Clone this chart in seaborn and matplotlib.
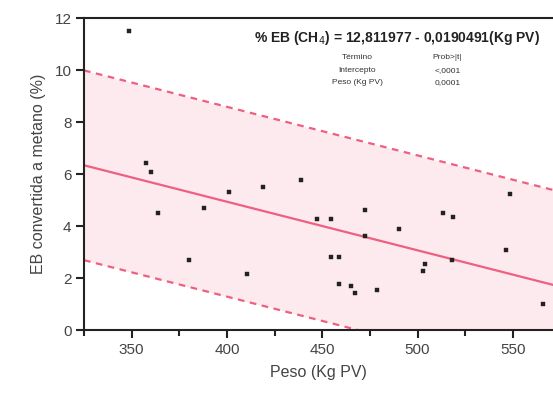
import numpy as np
import pandas as pd
import matplotlib
matplotlib.use("Agg")
import matplotlib.pyplot as plt
from matplotlib.ticker import MultipleLocator
import seaborn as sns

# ---- data ----
peso = [348.7, 357.3, 360.3, 363.6, 380.2, 387.8, 401.2, 410.7, 418.9, 438.8,
        447.2, 454.4, 454.7, 458.9, 458.7, 465.2, 467.3, 472.4, 472.4, 478.9,
        490.3, 502.9, 504.1, 513.4, 518.8, 518.0, 548.5, 546.3, 565.6]
eb_metano = [11.51, 6.43, 6.09, 4.49, 2.69, 4.69, 5.30, 2.14, 5.50, 5.76,
             4.28, 4.28, 2.82, 2.82, 1.76, 1.68, 1.41, 4.63, 3.62, 1.55,
             3.88, 2.28, 2.55, 4.49, 4.35, 2.68, 5.23, 3.08, 1.01]
fit_intercept = 12.41      # drawn regression line
fit_slope = -0.01869
band_halfwidth = 3.65      # prediction band half-width
x_range = [325.0, 571.1]
x_ticks = [350, 400, 450, 500, 550]
y_ticks = [0, 2, 4, 6, 8, 10, 12]

equation = "% EB (CH$_4$) = 12,811977 - 0,0190491(Kg PV)"
table_rows = [("Término", "Prob>|t|"), ("Intercepto", "<,0001"), ("Peso (Kg PV)", "0,0001")]

# ---- figure ----
sns.set_style("ticks")
plt.rcParams['font.family'] = ['Liberation Sans', 'DejaVu Sans']

fig = plt.figure(figsize=(5.53, 3.97), dpi=100)
ax = fig.add_axes([84/553, 1-330/397, 1-84/553, (330-18)/397])

line_color = "#ee5f80"
xs = np.linspace(x_range[0], x_range[1], 200)
yhat = fit_intercept + fit_slope * xs
ax.fill_between(xs, yhat - band_halfwidth, yhat + band_halfwidth,
                color="#fdeaee", lw=0, zorder=0)
sns.lineplot(x=xs, y=yhat, ax=ax, color=line_color, lw=1.6, zorder=2)
sns.lineplot(x=xs, y=yhat + band_halfwidth, ax=ax, color=line_color, lw=1.6,
             linestyle=(0, (3, 2.5)), zorder=2)
sns.lineplot(x=xs, y=yhat - band_halfwidth, ax=ax, color=line_color, lw=1.6,
             linestyle=(0, (3, 2.5)), zorder=2)

df = pd.DataFrame({"peso": peso, "eb": eb_metano})
sns.scatterplot(data=df, x="peso", y="eb", ax=ax, marker="s", s=9,
                color="#222222", edgecolor="#222222", linewidth=0.3, zorder=3)

ax.set_xlim(*x_range)
ax.set_ylim(0, 12)
ax.set_xticks(x_ticks)
ax.xaxis.set_minor_locator(MultipleLocator(25))
ax.set_yticks(y_ticks)

ax.spines['right'].set_visible(False)
for s in ['left', 'bottom', 'top']:
    ax.spines[s].set_linewidth(1.5)
    ax.spines[s].set_color("#222222")
ax.tick_params(axis='both', which='major', length=6, width=1.5, color="#222222",
               labelsize=11, labelcolor="#444444", pad=3)
ax.tick_params(axis='x', which='minor', length=4, width=1.5, color="#222222")

ax.set_xlabel("Peso (Kg PV)", fontsize=11.5, color="#444444", labelpad=6)
ax.set_ylabel("EB convertida a metano (%)", fontsize=11.5, color="#444444", labelpad=6)

ax.text(0.668, 0.937, equation, transform=ax.transAxes, ha="center", va="center",
        fontsize=10, fontweight="bold", color="#222222")
row_y = [0.872, 0.833, 0.792]
for (a, b), yy in zip(table_rows, row_y):
    ax.text(0.582, yy, a, transform=ax.transAxes, ha="center", va="center",
            fontsize=6, color="#333333")
    ax.text(0.775, yy, b, transform=ax.transAxes, ha="center", va="center",
            fontsize=6, color="#333333")

fig.savefig("out.png", dpi=100)
